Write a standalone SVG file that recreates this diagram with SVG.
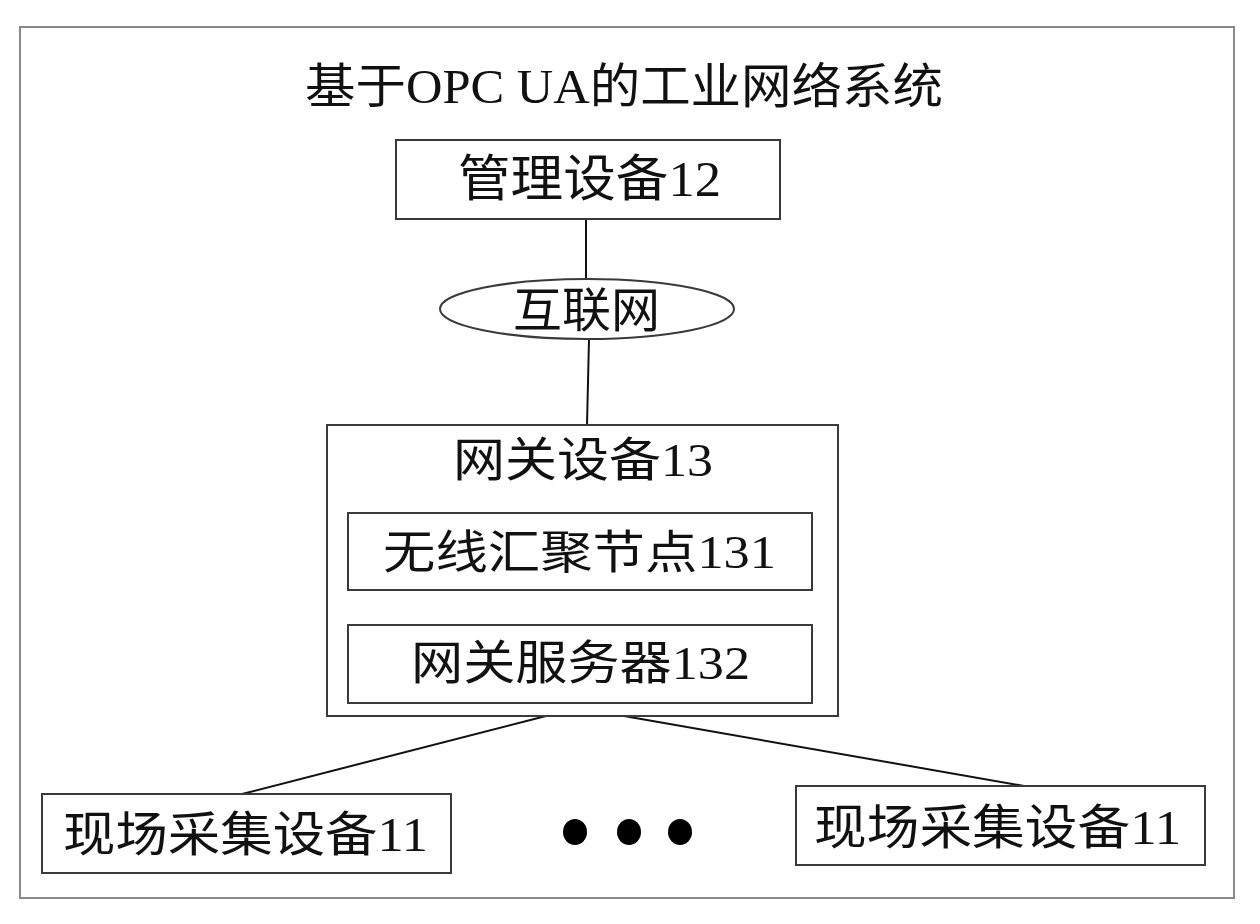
<svg xmlns="http://www.w3.org/2000/svg" width="1260" height="924" viewBox="0 0 1260 924">
<style>
.frame{fill:#fff;stroke:#8a8a8a;stroke-width:2}
.box{fill:#fff;stroke:#3a3a3a;stroke-width:2}
.ln{stroke:#111;stroke-width:2;fill:none}
.t{font-family:"Liberation Serif","Noto Sans CJK SC",serif;fill:#111}
</style>
<rect width="1260" height="924" fill="#fff"/>
<rect class="frame" x="20" y="27" width="1214" height="871"/>
<text class="t" x="305" y="103" font-size="48" textLength="638" lengthAdjust="spacingAndGlyphs">基于OPC UA的工业网络系统</text>
<g id="connectors">
<line class="ln" x1="586" y1="219" x2="586" y2="279"/>
<line class="ln" x1="589" y1="339" x2="587" y2="425"/>
<line class="ln" x1="546" y1="716" x2="242" y2="794"/>
<line class="ln" x1="624" y1="716" x2="1024" y2="786"/>
</g>
<g id="mgmt">
<rect class="box" x="396" y="140" width="384" height="79"/>
<text class="t" x="458" y="196" font-size="50" textLength="263" lengthAdjust="spacingAndGlyphs">管理设备12</text>
</g>
<g id="internet">
<ellipse class="box" cx="587" cy="309" rx="147" ry="30"/>
<text class="t" x="513" y="327" font-size="48" textLength="147" lengthAdjust="spacingAndGlyphs">互联网</text>
</g>
<g id="gateway">
<rect class="box" x="327" y="425" width="511" height="291"/>
<text class="t" x="453" y="476" font-size="47" textLength="260" lengthAdjust="spacingAndGlyphs">网关设备13</text>
</g>
<g id="sink">
<rect class="box" x="348" y="513" width="464" height="77"/>
<text class="t" x="383" y="568" font-size="46" textLength="393" lengthAdjust="spacingAndGlyphs">无线汇聚节点131</text>
</g>
<g id="server">
<rect class="box" x="348" y="625" width="464" height="78"/>
<text class="t" x="411" y="679" font-size="47" textLength="339" lengthAdjust="spacingAndGlyphs">网关服务器132</text>
</g>
<g id="field-left">
<rect class="box" x="42" y="794" width="409" height="79"/>
<text class="t" x="63" y="851" font-size="48" textLength="365" lengthAdjust="spacingAndGlyphs">现场采集设备11</text>
</g>
<g id="dots">
<ellipse cx="575" cy="832" rx="12" ry="13" fill="#000"/>
<ellipse cx="629" cy="832" rx="12" ry="13" fill="#000"/>
<ellipse cx="680" cy="832" rx="12" ry="13" fill="#000"/>
</g>
<g id="field-right">
<rect class="box" x="796" y="786" width="409" height="79"/>
<text class="t" x="814" y="844" font-size="48" textLength="367" lengthAdjust="spacingAndGlyphs">现场采集设备11</text>
</g>
</svg>
